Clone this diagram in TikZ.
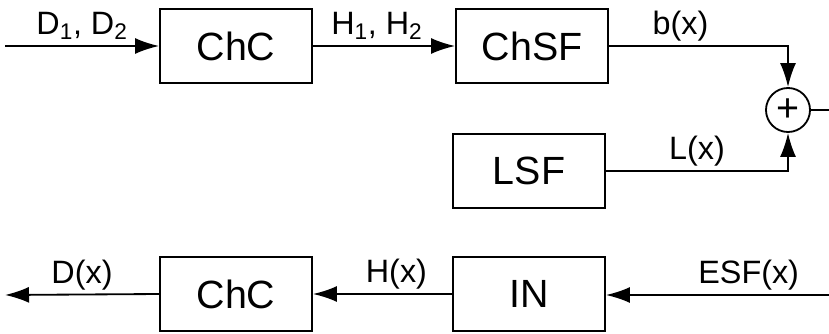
\documentclass[tikz,border=0pt]{standalone}
\usepackage{fontspec}
\setmainfont{Liberation Sans}
\usetikzlibrary{arrows.meta}
\tikzset{
  blok/.style={draw, line width=1.3pt, minimum width=3.8cm, minimum height=1.83cm, inner sep=0pt, font=\fontsize{28}{32}\selectfont},
  sumator/.style={draw, circle, line width=1.3pt, minimum size=1.1cm, inner sep=0pt, font=\fontsize{28}{32}\selectfont},
  sig/.style={line width=1.3pt, -{Latex[length=6mm,width=4mm]}},
  lin/.style={line width=1.3pt},
  lab/.style={above, font=\fontsize{23}{27}\selectfont, text depth=5pt, inner sep=2.5pt}
}
\begin{document}
\begin{tikzpicture}[x=0.025cm,y=-0.025cm]
\useasboundingbox (0,0) rectangle (829,334);
%\draw (0,0) grid[step=100] (829,334);

% gorny tor
\coordinate (wejD) at (5,46);
\node[blok] (chcA) at (236,46) {ChC};
\node[blok] (chsf) at (532,46) {ChSF};
\node[blok] (lsf) at (529,171) {LSF};
\node[sumator] (sum) at (788,110) {+};
\coordinate (wyjS) at (829,110);

\draw[sig] (wejD) -- node[lab] {D\textsubscript{1}, D\textsubscript{2}} (chcA);
\draw[sig] (chcA) -- node[lab, pos=0.45] {H\textsubscript{1}, H\textsubscript{2}} (chsf);
\draw[sig] (chsf.east) -- node[lab, pos=0.4] {b(x)} (chsf.east -| sum) -- (sum.north);
\draw[sig] (lsf.east) -- node[lab] {L(x)} (lsf.east -| sum) -- (sum.south);
\draw[lin] (sum.east) -- (wyjS);

% dolny tor
\coordinate (wejE) at (829,295);
\node[blok] (in) at (529,294) {IN};
\node[blok] (chcB) at (236,294) {ChC};
\coordinate (wyjD) at (5,295);

\draw[sig] (wejE) -- node[lab, pos=0.36] {ESF(x)} (wejE -| in.east);
\draw[sig] (in.west) -- node[lab, pos=0.4] {H(x)} (chcB.east);
\draw[sig] (chcB.west) -- node[lab] {D(x)} (wyjD);
\end{tikzpicture}
\end{document}
